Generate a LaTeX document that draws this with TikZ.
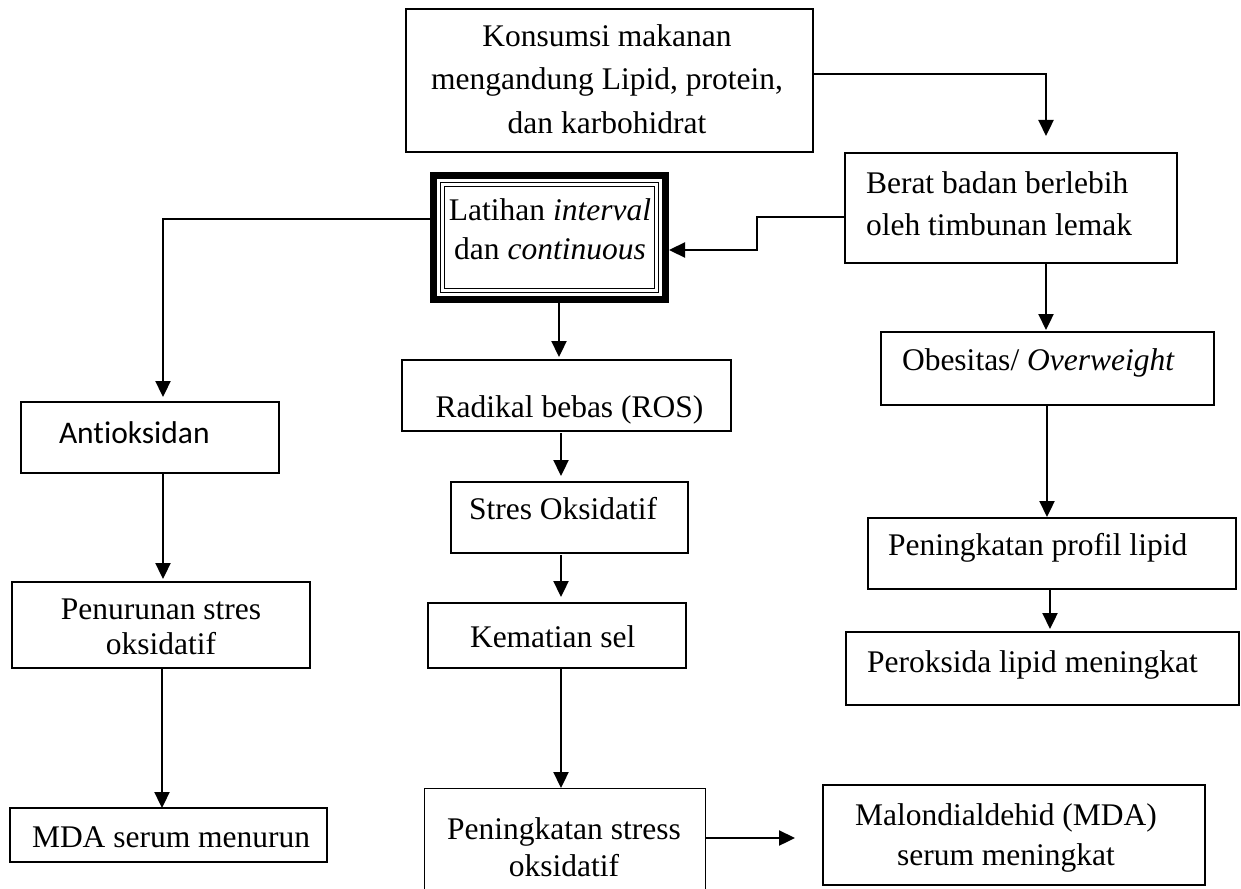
\documentclass[tikz,border=0pt]{standalone}
\usepackage{fontspec}
\setmainfont{Liberation Serif}
\newfontfamily\calib[Ligatures=NoCommon]{Carlito}
\usetikzlibrary{arrows.meta,calc}
\tikzset{
  box/.style={draw, line width=1.4pt, inner sep=0pt, outer sep=0pt, anchor=north west},
  txt/.style={inner sep=0pt, outer sep=0pt, font=\fontsize{31.5}{40}\selectfont},
  arr/.style={line width=2.3pt, -{Triangle[length=16pt 0 0,width=15pt 0 0]}},
}
\begin{document}
\begin{tikzpicture}[x=1pt,y=-1pt]
\useasboundingbox (0,0) rectangle (1241,888);
% boxes
\node[box, minimum width=407pt, minimum height=143pt] (konsumsi) at (406,9) {};
\node[box, draw=none, minimum width=239pt, minimum height=131pt] (latihan) at (430,172) {};
\draw[line width=7pt] ([shift={(3.5pt,-3.5pt)}]latihan.north west) rectangle ([shift={(-3.5pt,3.5pt)}]latihan.south east);
\draw[line width=1.8pt] ([shift={(10.5pt,-10.5pt)}]latihan.north west) rectangle ([shift={(-10.5pt,10.5pt)}]latihan.south east);
\draw[line width=1.6pt] ([shift={(14.5pt,-14.5pt)}]latihan.north west) rectangle ([shift={(-14.5pt,14.5pt)}]latihan.south east);
\node[box, minimum width=332pt, minimum height=110pt] (berat) at (845,153) {};
\node[box, minimum width=333pt, minimum height=73pt] (obes) at (881,332) {};
\node[box, minimum width=368pt, minimum height=71pt] (profil) at (868,518) {};
\node[box, minimum width=393pt, minimum height=73pt] (perok) at (846,632) {};
\node[box, minimum width=382pt, minimum height=100pt] (malon) at (823,785) {};
\node[box, line width=1pt, minimum width=281pt, minimum height=110pt] (penstress) at (424,788) {};
\node[box, line width=2.4pt, minimum width=258pt, minimum height=65pt] (kematian) at (428,603) {};
\node[box, minimum width=329pt, minimum height=71pt] (radikal) at (402,360) {};
\node[box, minimum width=237pt, minimum height=71pt] (stres) at (451,482) {};
\node[box, minimum width=258pt, minimum height=71pt] (antiok) at (21,402) {};
\node[box, minimum width=298pt, minimum height=86pt] (penurunan) at (12,582) {};
\node[box, minimum width=317pt, minimum height=54pt] (mda) at (10,808) {};
% texts
\node[txt, anchor=base] (k1) at (607,47) {Konsumsi makanan};
\node[txt, anchor=base] (k2) at (607,90) {mengandung Lipid, protein,};
\node[txt, anchor=base] (k3) at (607,133) {dan karbohidrat};
\node[txt, anchor=base] (l1) at (550,220) {Latihan \textit{interval}};
\node[txt, anchor=base] (l2) at (550,259) {dan \textit{continuous}};
\node[txt, anchor=base west] (b1) at (866,193) {Berat badan berlebih};
\node[txt, anchor=base west] (b2) at (866,235) {oleh timbunan lemak};
\node[txt, anchor=base west] (o1) at (902,370) {Obesitas/ \textit{Overweight}};
\node[txt, anchor=base west] (p1) at (888,555) {Peningkatan profil lipid};
\node[txt, anchor=base west] (r1) at (867,672) {Peroksida lipid meningkat};
\node[txt, anchor=base] (m1) at (1006,825) {Malondialdehid (MDA)};
\node[txt, anchor=base] (m2) at (1006,865) {serum meningkat};
\node[txt, anchor=base] (s1) at (564,839) {Peningkatan stress};
\node[txt, anchor=base] (s2) at (564,876) {oksidatif};
\node[txt, anchor=base west] (ke) at (470,647) {Kematian sel};
\node[txt, anchor=base] (ra) at (569.5,417) {Radikal bebas (ROS)};
\node[txt, anchor=base west] (st) at (469,519) {Stres Oksidatif};
\node[txt, anchor=base west, font=\calib\fontsize{31.5}{40}\selectfont] (an) at (59,443) {Antioksidan};
\node[txt, anchor=base] (pe1) at (161,619) {Penurunan stres};
\node[txt, anchor=base] (pe2) at (161,654) {oksidatif};
\node[txt, anchor=base west] (md) at (32,847) {MDA serum menurun};
% connectors
\draw[arr] ([yshift=6.5pt]konsumsi.east) -| ([xshift=35pt,yshift=17pt]berat.north);
\draw[arr] ([yshift=-9pt]berat.west) -- ++(-88,0) |- ([yshift=-12.5pt]latihan.east);
\draw[arr] ([yshift=18.5pt]latihan.west) -| ([xshift=13pt,yshift=5pt]antiok.north);
\draw[arr] ([xshift=13pt]antiok.south) -- ([xshift=2pt,yshift=3pt]penurunan.north);
\draw[arr] ([xshift=1pt]penurunan.south) -- ([xshift=-6.5pt]mda.north);
\draw[arr] ([xshift=9.5pt]latihan.south) -- ([xshift=-7.5pt,yshift=3pt]radikal.north);
\draw[arr] ([xshift=-5.5pt,yshift=-2pt]radikal.south) -- ([xshift=-8.5pt,yshift=6pt]stres.north);
\draw[arr] ([xshift=-8.5pt,yshift=-2pt]stres.south) -- ([xshift=4pt,yshift=6pt]kematian.north);
\draw[arr] ([xshift=4pt]kematian.south) -- ([xshift=-3.5pt]penstress.north);
\draw[arr] ([yshift=5pt]penstress.east) -- ([xshift=-28pt,yshift=-3pt]malon.west);
\draw[arr] ([xshift=35pt]berat.south) -- ([xshift=-1.5pt,yshift=2pt]obes.north);
\draw[arr] ([xshift=-0.5pt]obes.south) -- ([xshift=-5pt,yshift=1pt]profil.north);
\draw[arr] ([xshift=-2pt]profil.south) -- ([xshift=7.5pt,yshift=3pt]perok.north);
\end{tikzpicture}
\end{document}
